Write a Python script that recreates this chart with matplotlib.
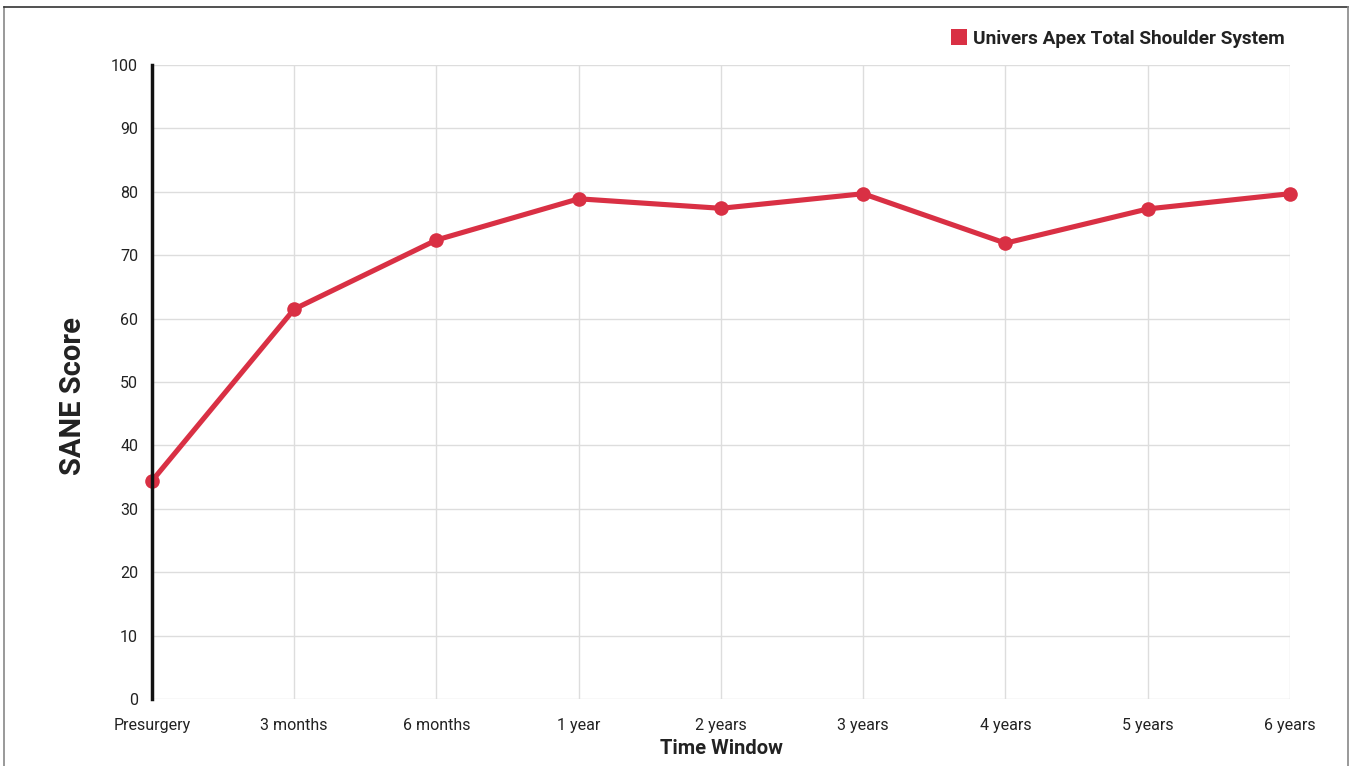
import matplotlib
matplotlib.use("Agg")
import matplotlib.pyplot as plt
from matplotlib.lines import Line2D

categories = ["Presurgery", "3 months", "6 months", "1 year", "2 years",
              "3 years", "4 years", "5 years", "6 years"]
sane_scores = [34.4, 61.5, 72.4, 78.9, 77.4, 79.7, 71.9, 77.3, 79.7]
series_name = "Univers Apex Total Shoulder System"
y_ticks = list(range(0, 101, 10))

RED = "#d93044"
GRID = "#dddddd"
TEXT = "#222222"

plt.rcParams["font.family"] = ["Roboto", "DejaVu Sans"]

fig = plt.figure(figsize=(13.51, 7.66), dpi=100)
ax = fig.add_axes([0.1125, 0.0875, 0.8423, 0.8276])

x = list(range(len(categories)))
ax.plot(x, sane_scores, color=RED, linewidth=3.7, marker="o",
        markersize=10.5, markeredgewidth=0, clip_on=False, zorder=5,
        solid_joinstyle="round")

ax.set_xlim(0, len(categories) - 1)
ax.set_ylim(0, 100)
ax.set_yticks(y_ticks)
ax.set_xticks(x)
ax.set_xticklabels(categories)

ax.grid(True, color=GRID, linewidth=1.0)
ax.set_axisbelow(True)
for side in ("top", "right", "bottom"):
    ax.spines[side].set_visible(False)
ax.spines["left"].set_color("#111111")
ax.spines["left"].set_linewidth(2.5)
ax.spines["left"].set_zorder(6)

ax.tick_params(axis="both", length=0, labelsize=11.5, colors=TEXT)
ax.tick_params(axis="y", pad=10)
ax.tick_params(axis="x", pad=14)

ax.set_ylabel("SANE Score", fontsize=21, fontweight="bold", color=TEXT)
ax.yaxis.set_label_coords(-0.057, 0.478)
ax.set_xlabel("Time Window", fontsize=14.5, fontweight="bold", color=TEXT,
              labelpad=4)

# legend at top right
handle = Line2D([], [], marker="s", color="none", markerfacecolor=RED,
                markeredgewidth=0, markersize=11)
leg = fig.legend([handle], [series_name], loc="upper right",
                 bbox_to_anchor=(0.9635, 0.983), frameon=False,
                 prop={"weight": "bold", "size": 13.7}, handletextpad=0.25,
                 handlelength=1.0)
for t in leg.get_texts():
    t.set_color(TEXT)

# outer frame
fig.add_artist(Line2D([0.003, 0.003], [0, 0.991], color="#888888",
                      linewidth=1.2, transform=fig.transFigure))
fig.add_artist(Line2D([0.003, 0.998], [0.991, 0.991], color="#333333",
                      linewidth=1.2, transform=fig.transFigure))
fig.add_artist(Line2D([0.998, 0.998], [0, 0.991], color="#888888",
                      linewidth=1.2, transform=fig.transFigure))

fig.savefig("out.png", dpi=100)
